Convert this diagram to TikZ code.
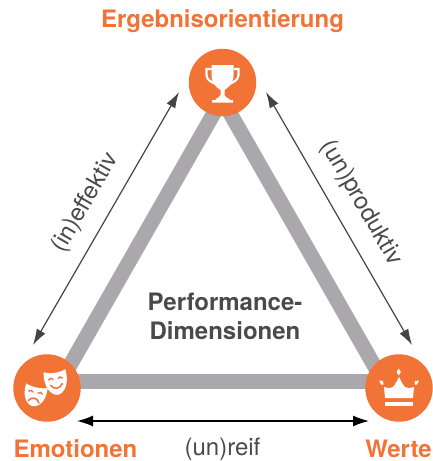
\documentclass[tikz,border=0pt]{standalone}
\usepackage{fontspec}
\setmainfont{TeX Gyre Heros}
\usetikzlibrary{arrows.meta}
\definecolor{orng}{HTML}{F17336}
\definecolor{barc}{HTML}{ABA8AD}
\definecolor{arrc}{HTML}{444444}
\definecolor{txtc}{HTML}{4A4A4A}
\tikzset{
  hub/.style={circle,fill=orng,minimum size=67.5pt,inner sep=0pt},
  bar/.style={draw=barc,line width=15pt},
  rel/.style={draw=arrc,line width=1.2pt,{Latex[length=16pt,width=10pt]}-{Latex[length=16pt,width=10pt]}},
  relb/.style={draw=black,line width=1.5pt,{Latex[length=16pt,width=11pt]}-{Latex[length=16pt,width=11pt]}},
  title/.style={text=orng,font=\bfseries\fontsize{24}{27}\selectfont,inner sep=0pt},
  lab/.style={text=txtc,font=\fontsize{24}{27}\selectfont,inner sep=0pt},
  ico/.style={fill=white,draw=none}
}
\begin{document}
\begin{tikzpicture}[x=1pt,y=-1pt]
\useasboundingbox (0,0) rectangle (433,461);
\coordinate (vt) at (222,99);
\coordinate (vl) at (61,381);
\coordinate (vr) at (383,381);
\draw[bar] (vl) -- (vr);
\draw[bar] (vl) -- (vt);
\draw[bar] (vr) -- (vt);
\node[hub] (top) at (222.5,82.5) {};
\node[hub] (left) at (47,388) {};
\node[hub] (right) at (399,388) {};
% arrows
\coordinate (a1) at (179,92);
\coordinate (a2) at (33,345);
\coordinate (b1) at (266,92);
\coordinate (b2) at (412,345);
\coordinate (c1) at (77,421);
\coordinate (c2) at (369,421);
\draw[rel] (a1) -- (a2);
\draw[rel] (b1) -- (b2);
\draw[relb] (c1) -- (c2);
% labels
\node[title] (t1) at (222.5,21.5) {Ergebnisorientierung};
\node[title] (t2) at (75.5,449) {Emotionen};
\node[title] (t3) at (398.5,449) {Werte};
\node[lab] (l1) at (85.5,203) [rotate=60] {(in)effektiv};
\node[lab] (l2) at (361,203) [rotate=-60] {(un)produktiv};
\node[lab] (l3) at (222.5,449) {(un)reif};
\node[text=txtc,font=\bfseries\fontsize{24}{29}\selectfont,align=center,inner sep=0pt] (c) at (225,316) {Performance-\\Dimensionen};
% trophy
\begin{scope}[shift={(222.5,82)}]
  \draw[white,line width=2.2pt] (-11,-13) -- (-16,-13) -- (-16,-7) .. controls (-16,-2) and (-11,0) .. (-7,2);
  \draw[white,line width=2.2pt] (11,-13) -- (16,-13) -- (16,-7) .. controls (16,-2) and (11,0) .. (7,2);
  \fill[ico] (-11,-17) -- (11,-17) -- (11,-7) .. controls (11,2) and (5,6) .. (2,8) -- (2,13) .. controls (2.5,15) and (5,16) .. (7,17) -- (7,18) -- (10.5,18) -- (10.5,20.5) -- (-10.5,20.5) -- (-10.5,18) -- (-7,18) -- (-7,17) .. controls (-5,16) and (-2.5,15) .. (-2,13) -- (-2,8) .. controls (-5,6) and (-11,2) .. (-11,-7) -- cycle;
\end{scope}
% masks
\begin{scope}[shift={(47,388)}]
  \begin{scope}[shift={(9,-6)},rotate=8]
    \fill[ico] (-11,-11.5) .. controls (-5,-8.5) and (5,-8.5) .. (11,-11.5) .. controls (13,2) and (8,12) .. (0,13) .. controls (-8,12) and (-13,2) .. (-11,-11.5) -- cycle;
    \draw[orng,line width=1.4pt,line cap=round] (-7,-3) .. controls (-5.5,-5) and (-3.5,-5) .. (-2.5,-3);
    \draw[orng,line width=1.4pt,line cap=round] (2.5,-3) .. controls (3.5,-5) and (5.5,-5) .. (7,-3);
    \draw[orng,line width=1.5pt,line cap=round] (-6,2.5) .. controls (-3,7.5) and (3,7.5) .. (6,2.5);
  \end{scope}
  \draw[orng,line width=2pt] (-3.5,-3) .. controls (-1,3) and (0,6) .. (2,9);
  \begin{scope}[shift={(-12,7)},rotate=-12]
    \fill[ico] (-11,-9.5) .. controls (-5,-7) and (5,-7) .. (11,-9.5) .. controls (12,2) and (8,10.5) .. (0,11.5) .. controls (-8,10.5) and (-12,2) .. (-11,-9.5) -- cycle;
    \draw[orng,line width=1.4pt,line cap=round] (-7,-2.5) .. controls (-5.5,-4) and (-4,-4) .. (-2.5,-2.5);
    \draw[orng,line width=1.4pt,line cap=round] (2.5,-2.5) .. controls (4,-4) and (5.5,-4) .. (7,-2.5);
    \draw[orng,line width=1.6pt,line cap=round] (-5.5,7) .. controls (-3,2) and (3,2) .. (5.5,7);
  \end{scope}
\end{scope}
% crown
\begin{scope}[shift={(399,388)}]
  \fill[ico] (-14,10) -- (-15,-1) .. controls (-11,0) and (-8,1) .. (-6,-1) .. controls (-4,-3) and (-2,-7) .. (0,-11) .. controls (2,-7) and (4,-3) .. (6,-1) .. controls (8,1) and (11,0) .. (15,-1) -- (14,10) -- cycle;
  \fill[ico] (-14,14) rectangle (14,18);
  \fill[ico] (-0.3,-19.5) -- (1.8,-16) -- (-0.3,-12.5) -- (-2.4,-16) -- cycle;
  \fill[ico] (-20,-7.5) -- (-16,-7) -- (-15.5,-3.5) -- (-18,-3.5) -- cycle;
  \fill[ico] (20,-7.5) -- (16,-7) -- (15.5,-3.5) -- (18,-3.5) -- cycle;
\end{scope}
\end{tikzpicture}
\end{document}
